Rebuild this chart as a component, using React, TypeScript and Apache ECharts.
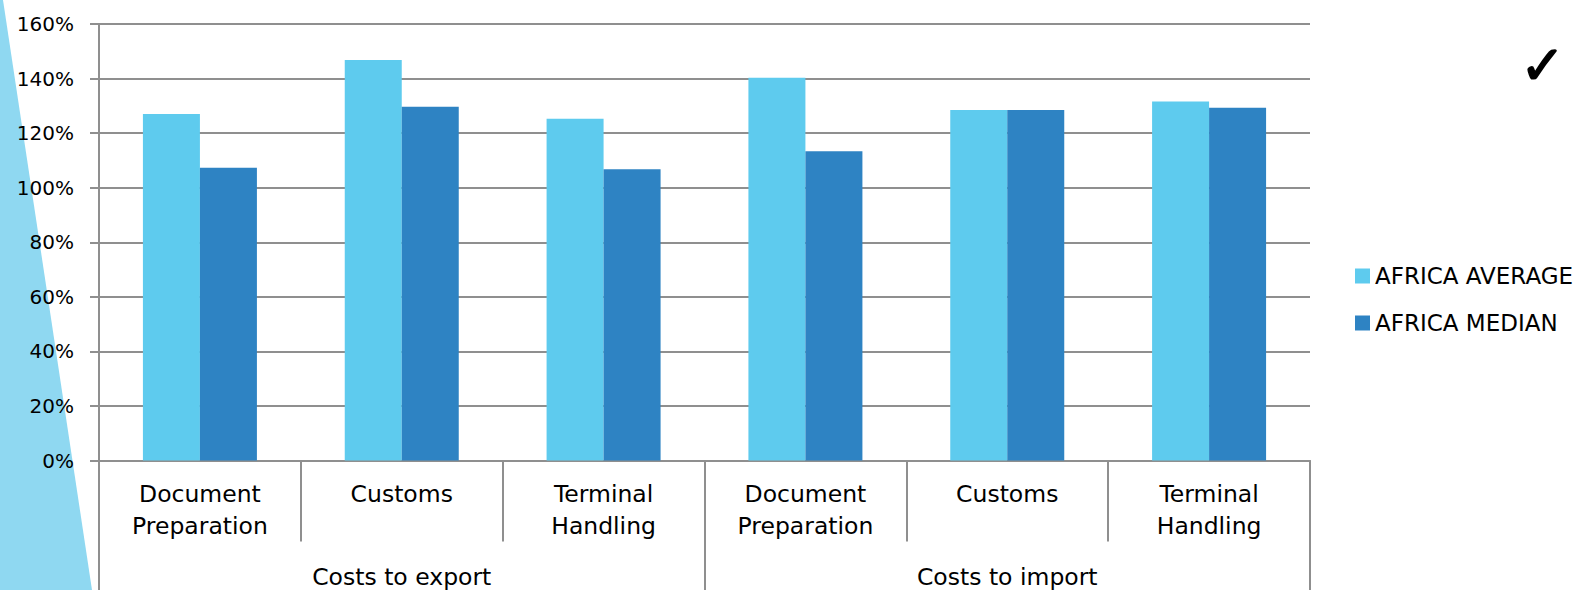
import React, { useEffect, useRef } from "react";
import * as echarts from "echarts";

const categories = [
  "Document\nPreparation",
  "Customs",
  "Terminal\nHandling",
  "Document\nPreparation",
  "Customs",
  "Terminal\nHandling",
];
const groups = ["Costs to export", "Costs to import"];
const africaAverage = [127.0, 146.8, 125.3, 140.3, 128.5, 131.6];
const africaMedian = [107.3, 129.7, 106.8, 113.4, 128.5, 129.3];
const seriesNames = ["AFRICA AVERAGE", "AFRICA MEDIAN"];

const FONT = "DejaVu Sans";

export default function App() {
  const ref = useRef<HTMLDivElement>(null);
  useEffect(() => {
    if (!ref.current) return;
    const chart = echarts.init(ref.current, null, { renderer: "svg" });
    const gray = "#8f8f8f";
    chart.setOption({
      animation: false,
      backgroundColor: "#ffffff",
      textStyle: { fontFamily: FONT },
      grid: {
        left: 99,
        right: 267,
        top: 24,
        bottom: 129.5,
        containLabel: false,
        outerBoundsMode: "none",
      },
      legend: {
        orient: "vertical",
        left: 1350,
        top: 258,
        itemWidth: 15,
        itemHeight: 15,
        itemGap: 21,
        icon: "rect",
        data: seriesNames,
        textStyle: { fontFamily: FONT, fontSize: 23, color: "#000", lineHeight: 26 },
      },
      xAxis: [
        {
          type: "category",
          data: categories,
          position: "bottom",
          axisLine: { show: true, lineStyle: { color: gray, width: 2 } },
          axisTick: { show: true, interval: 0, length: 81, lineStyle: { color: gray, width: 2 } },
          axisLabel: {
            interval: 0,
            margin: 17,
            fontFamily: FONT,
            fontSize: 23.5,
            lineHeight: 32,
            color: "#000",
          },
        },
        {
          type: "category",
          data: groups,
          position: "bottom",
          axisLine: { show: false },
          axisTick: { show: true, interval: 0, length: 140, lineStyle: { color: gray, width: 2 } },
          axisLabel: {
            interval: 0,
            margin: 100,
            fontFamily: FONT,
            fontSize: 23.5,
            lineHeight: 32,
            color: "#000",
          },
        },
      ],
      yAxis: {
        type: "value",
        min: 0,
        max: 160,
        interval: 20,
        axisLine: { show: true, lineStyle: { color: gray, width: 2 } },
        axisTick: { show: true, length: 9, lineStyle: { color: gray, width: 2 } },
        splitLine: { show: true, lineStyle: { color: gray, width: 2 } },
        axisLabel: {
          margin: 25,
          formatter: "{value}%",
          fontFamily: FONT,
          fontSize: 20,
          color: "#000",
        },
      },
      series: [
        {
          name: seriesNames[0],
          type: "bar",
          xAxisIndex: 0,
          data: africaAverage,
          barWidth: 57,
          barGap: "0%",
          itemStyle: { color: "#5ecbee" },
        },
        {
          name: seriesNames[1],
          type: "bar",
          xAxisIndex: 0,
          data: africaMedian,
          barWidth: 57,
          barGap: "0%",
          itemStyle: { color: "#2e83c3" },
        },
      ],
      graphic: [
        {
          type: "polygon",
          z: -1,
          shape: { points: [[0, 0], [3, 0], [92, 590], [0, 590]] },
          style: { fill: "#8fd8f1" },
        },
        {
          type: "text",
          x: 1520,
          y: 38,
          style: {
            text: "✓",
            fontFamily: FONT,
            fontSize: 54,
            fill: "#000",
            stroke: "#000",
            lineWidth: 1.5,
          },
        },
      ],
    });
    return () => chart.dispose();
  }, []);
  return (
    <div
      ref={ref}
      style={{ position: "fixed", left: 0, top: 0, width: 1577, height: 590 }}
    />
  );
}
